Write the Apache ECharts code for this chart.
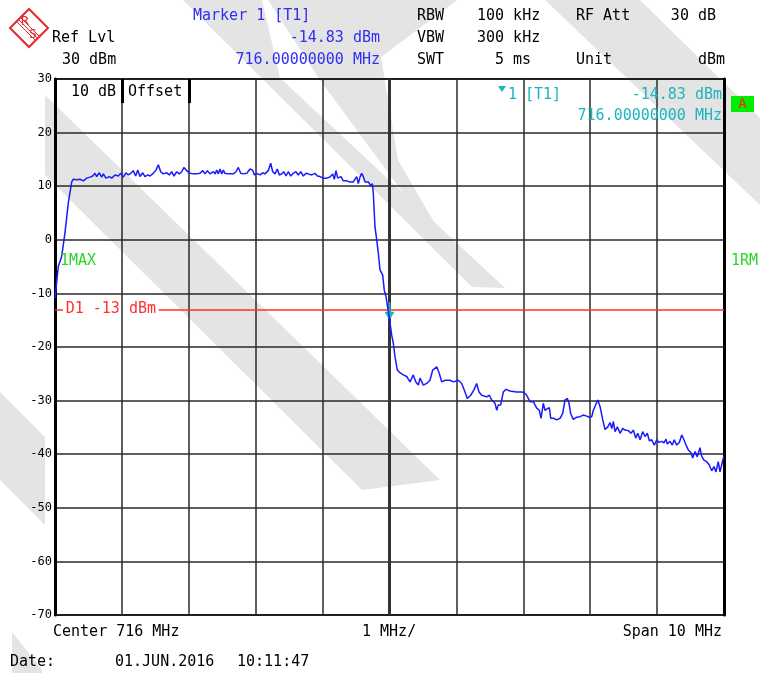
<!DOCTYPE html>
<html><head><meta charset="utf-8">
<script src="https://cdn.jsdelivr.net/npm/echarts@6/dist/echarts.min.js"></script>
<style>html,body{margin:0;padding:0;background:#fff}#c{width:760px;height:673px}</style>
</head><body><div id="c"></div>
<script>
// ---- data ----
const freqMHz = [
711.000,711.015,711.049,711.100,711.149,711.199,711.250,711.274,711.324,711.374,
711.423,711.474,711.523,711.564,711.598,711.623,711.662,711.698,711.722,711.762,
711.812,711.848,711.897,711.946,711.982,712.021,712.061,712.096,712.132,712.170,
712.206,712.236,712.271,712.311,712.345,712.386,712.420,712.469,712.510,712.544,
712.580,712.619,712.670,712.709,712.744,712.779,712.819,712.858,712.894,712.928,
712.969,713.018,713.067,713.118,713.167,713.208,713.242,713.277,713.317,713.366,
713.392,713.417,713.441,713.466,713.492,713.516,713.541,713.567,713.590,713.616,
713.665,713.706,713.740,713.776,713.815,713.866,713.915,713.955,713.979,714.015,
714.064,714.105,714.139,714.188,714.224,714.254,714.289,714.323,714.353,714.389,
714.423,714.453,714.487,714.523,714.562,714.602,714.637,714.673,714.712,714.752,
714.786,714.837,714.886,714.921,714.961,715.011,715.061,715.111,715.151,715.175,
715.200,715.226,715.250,715.275,715.309,715.360,715.410,715.435,715.459,715.484,
715.510,715.534,715.559,715.584,715.608,715.634,715.659,715.683,715.709,715.723,
715.743,715.758,715.783,715.809,715.833,715.858,715.898,715.922,715.948,715.982,
716.000,716.033,716.057,716.082,716.117,716.157,716.206,716.257,716.307,716.356,
716.392,716.431,716.456,716.481,716.506,716.556,716.605,716.646,716.706,716.744,
716.780,716.830,716.855,716.904,716.954,717.028,717.079,717.129,717.163,717.214,
717.263,717.303,717.338,717.378,717.453,717.492,717.528,717.577,717.603,717.626,
717.662,717.701,717.741,717.801,717.901,717.976,718.010,718.051,718.100,718.150,
718.200,718.239,718.265,718.299,718.324,718.350,718.389,718.410,718.450,718.500,
718.549,718.589,718.623,718.658,718.683,718.708,718.747,718.798,718.848,718.897,
718.948,718.987,719.023,719.047,719.113,719.147,719.188,719.222,719.263,719.297,
719.323,719.347,719.371,719.406,719.447,719.486,719.520,719.570,719.610,719.645,
719.681,719.711,719.745,719.785,719.820,719.854,719.884,719.920,719.958,719.995,
720.029,720.069,720.103,720.133,720.153,720.193,720.227,720.257,720.293,720.332,
720.368,720.402,720.432,720.467,720.503,720.532,720.567,720.601,720.641,720.667,
720.701,720.741,720.780,720.816,720.850,720.880,720.914,720.940,720.966,720.990,
721.000
];
const levelDbm = [
-10.9,-11.2,-5.0,-3.1,1.3,6.9,10.8,11.3,11.2,11.3,
11.0,11.5,11.7,11.9,12.4,11.8,12.5,11.7,12.3,11.5,
11.8,11.5,12.1,11.9,12.4,11.7,12.5,12.1,12.4,12.9,
11.9,13.0,11.8,12.5,11.8,12.1,11.9,12.4,13.0,14.0,
12.7,12.3,12.5,12.1,12.7,11.9,12.7,12.3,12.7,13.5,
12.9,12.4,12.3,12.3,12.4,12.9,12.3,12.9,12.3,12.7,
12.3,13.0,12.3,13.2,12.3,13.0,12.4,12.7,12.3,12.5,
12.3,12.7,13.5,12.4,12.3,12.4,13.2,13.0,12.1,12.4,
12.1,12.5,12.3,12.9,14.3,12.7,12.3,13.2,12.1,12.3,
12.7,11.9,12.7,11.9,12.4,12.7,12.1,12.7,11.9,12.4,
12.3,12.1,12.4,11.9,11.8,11.5,11.5,11.7,12.3,11.3,
12.9,11.5,11.3,11.8,11.0,11.0,10.8,10.7,10.8,10.7,
11.8,10.5,11.7,12.4,11.8,10.8,10.7,10.8,10.5,10.0,
10.5,8.7,2.4,0.0,-2.5,-5.6,-6.6,-9.4,-10.6,-13.4,
-14.83,-17.8,-19.3,-21.8,-24.3,-24.8,-25.2,-25.5,-26.5,-25.2,
-26.5,-27.1,-25.8,-25.5,-27.1,-26.8,-26.2,-24.3,-23.7,-24.9,
-26.5,-26.2,-26.5,-26.2,-26.5,-26.2,-26.8,-28.4,-29.6,-29.0,
-28.0,-26.8,-28.4,-29.0,-29.3,-29.0,-29.9,-30.5,-31.8,-30.8,
-30.8,-28.4,-27.9,-28.2,-28.4,-28.4,-28.5,-29.0,-30.2,-30.2,
-31.4,-31.8,-33.3,-30.5,-31.8,-31.8,-31.3,-33.3,-33.3,-33.6,
-33.3,-32.4,-29.9,-29.6,-30.5,-32.4,-33.5,-33.1,-33.0,-32.7,
-32.9,-33.1,-33.0,-31.8,-29.9,-31.1,-33.6,-35.4,-34.9,-34.1,
-35.2,-33.9,-35.8,-34.9,-36.1,-35.2,-35.5,-35.6,-36.1,-35.5,
-37.0,-36.1,-37.3,-35.8,-36.7,-36.1,-37.5,-37.3,-38.3,-37.3,
-37.8,-37.6,-37.9,-37.2,-38.1,-37.6,-38.3,-37.3,-38.3,-37.8,
-36.4,-37.3,-38.3,-39.2,-39.7,-40.7,-39.5,-40.5,-38.8,-40.4,
-41.1,-41.4,-42.0,-43.1,-42.3,-43.3,-41.4,-43.3,-43.0,-40.7,
-40.5
];
const xRange = [711, 721];        // MHz (center 716, span 10)
const yRange = [-70, 30];         // dBm
const markerFreq = 716.0, markerLevel = -14.83;
const displayLine = -13;          // D1

const MONO = '"DejaVu Sans Mono", "Liberation Mono", monospace';
const F15 = '15px ' + MONO;
const BLUE = '#2f2ff5', CYAN = '#19b5c0', GREEN = '#2ad42a', RED = '#ff3030';

const traceData = freqMHz.map((f, i) => [f, levelDbm[i]]);

function txt(t, x, y, align, color, font) {
  return { type: 'text', x: x, y: y, z: 50,
    style: { text: t, font: font || F15, fill: color || '#000', align: align || 'left', verticalAlign: 'middle' } };
}
function poly(pts) {
  return { type: 'polygon', z: -100, silent: true, shape: { points: pts }, style: { fill: '#e4e4e4' } };
}

const graphics = [
  // watermark stripes
  poly([[183,0],[262,0],[280,78],[505,288],[472,287]]),
  poly([[268,0],[457,0],[381,57],[398,160],[470,284],[320,80]]),
  poly([[545,0],[640,0],[760,118],[760,205]]),
  poly([[45,95],[45,175],[362,490],[440,480]]),
  poly([[0,392],[45,437],[45,525],[0,480]]),
  poly([[12,632],[42,670],[42,673],[12,673]]),
  // logo
  { type: 'polygon', z: 50, shape: { points: [[29,9],[48,28],[29,47],[10,28]] },
    style: { fill: 'none', stroke: '#e8262e', lineWidth: 2 } },
  { type: 'line', z: 50, shape: { x1: 17, y1: 22, x2: 36, y2: 41 }, style: { stroke: '#e8262e', lineWidth: 1 } },
  { type: 'line', z: 50, shape: { x1: 19, y1: 20, x2: 38, y2: 39 }, style: { stroke: '#e8262e', lineWidth: 1 } },
  { type: 'line', z: 50, shape: { x1: 21, y1: 18, x2: 40, y2: 37 }, style: { stroke: '#e8262e', lineWidth: 1 } },
  txt('R', 25, 22, 'center', '#e8262e', '13px ' + MONO),
  txt('S', 33, 35, 'center', '#e8262e', '13px ' + MONO),
  // header
  txt('Ref Lvl', 52, 38),
  txt('30 dBm', 62, 60),
  txt('Marker 1 [T1]', 193, 16, 'left', BLUE),
  txt('-14.83 dBm', 380, 38, 'right', BLUE),
  txt('716.00000000 MHz', 380, 60, 'right', BLUE),
  txt('RBW', 417, 16), txt('100 kHz', 477, 16), txt('RF Att', 576, 16), txt('30 dB', 716, 16, 'right'),
  txt('VBW', 417, 38), txt('300 kHz', 477, 38),
  txt('SWT', 417, 60), txt('5 ms', 531, 60, 'right'), txt('Unit', 576, 60), txt('dBm', 725, 60, 'right'),
  // in-plot annotations
  txt('10 dB', 71, 92), txt('Offset', 128, 92),
  { type: 'polygon', z: 50, shape: { points: [[498,86],[506,86],[502,92]] }, style: { fill: CYAN } },
  txt('1', 508, 95, 'left', CYAN), txt('[T1]', 525, 95, 'left', CYAN),
  txt('-14.83 dBm', 722, 95, 'right', CYAN),
  txt('716.00000000 MHz', 722, 116, 'right', CYAN),
  txt('1MAX', 60, 261, 'left', GREEN),
  txt('1RM', 731, 261, 'left', GREEN),
  { type: 'rect', z: 50, shape: { x: 731, y: 96, width: 23, height: 16 }, style: { fill: '#00ee00' } },
  txt('A', 742.5, 104.5, 'center', '#ff2020', '14px ' + MONO),
  // footer
  txt('Center 716 MHz', 53, 632), txt('1 MHz/', 362, 632), txt('Span 10 MHz', 722, 632, 'right'),
  txt('Date:', 10, 662), txt('01.JUN.2016', 115, 662), txt('10:11:47', 237, 662)
];

const chart = echarts.init(document.getElementById('c'), null, { renderer: 'canvas' });
chart.setOption({
  animation: false,
  backgroundColor: '#fff',
  grid: { left: 55, right: 36, top: 79, bottom: 58, show: true, borderColor: '#000', borderWidth: 2, backgroundColor: 'transparent' },
  xAxis: { type: 'value', min: xRange[0], max: xRange[1], interval: 1,
    axisLabel: { show: false }, axisTick: { show: false }, axisLine: { show: false },
    splitLine: { show: true, lineStyle: { color: '#2a2a2a', width: 1.5 } } },
  yAxis: [
    { type: 'value', min: yRange[0], max: yRange[1], interval: 10,
      axisLabel: { color: '#000', fontSize: 12, fontFamily: MONO, margin: 3 },
      axisTick: { show: false }, axisLine: { show: true, lineStyle: { color: '#000', width: 3 } },
      splitLine: { show: true, lineStyle: { color: '#2a2a2a', width: 1.5 } } },
    { type: 'value', position: 'right', min: yRange[0], max: yRange[1], interval: 10,
      axisLabel: { show: false }, axisTick: { show: false }, splitLine: { show: false },
      axisLine: { show: true, lineStyle: { color: '#000', width: 3 } } }
  ],
  graphic: graphics,
  series: [{
    type: 'line', data: traceData, symbol: 'none', showSymbol: false, z: 5,
    lineStyle: { color: '#1a1aff', width: 1.5 },
    markLine: {
      silent: true, symbol: 'none', animation: false, label: { show: false },
      data: [
        { xAxis: 716, lineStyle: { color: '#333', width: 3, type: 'solid' } },
        [{ coord: [712, 30], lineStyle: { color: '#000', width: 3, type: 'solid' } }, { coord: [712, 25.5] }],
        [{ coord: [713, 30], lineStyle: { color: '#000', width: 3, type: 'solid' } }, { coord: [713, 25.5] }],
        [{ coord: [711, displayLine], lineStyle: { color: RED, width: 1.5, type: 'solid', opacity: 1 } }, { coord: [711.12, displayLine] }],
        [{ coord: [712.55, displayLine], lineStyle: { color: RED, width: 1.5, type: 'solid', opacity: 1 } }, { coord: [721, displayLine] }]
      ]
    },
    markPoint: {
      silent: true, animation: false,
      data: [
        { coord: [markerFreq, markerLevel], symbol: 'path://M4,0 L6,0 L6,9 L10,9 L5,17 L0,9 L4,9 Z',
          symbolSize: [10, 18], symbolOffset: [0, -8], itemStyle: { color: CYAN }, label: { show: false } },
        { coord: [711.835, displayLine], symbol: 'circle', symbolSize: 0,
          label: { show: true, position: 'inside', formatter: 'D1 -13 dBm', color: RED, fontSize: 15, fontFamily: MONO } }
      ]
    }
  }]
});
</script>
</body></html>
